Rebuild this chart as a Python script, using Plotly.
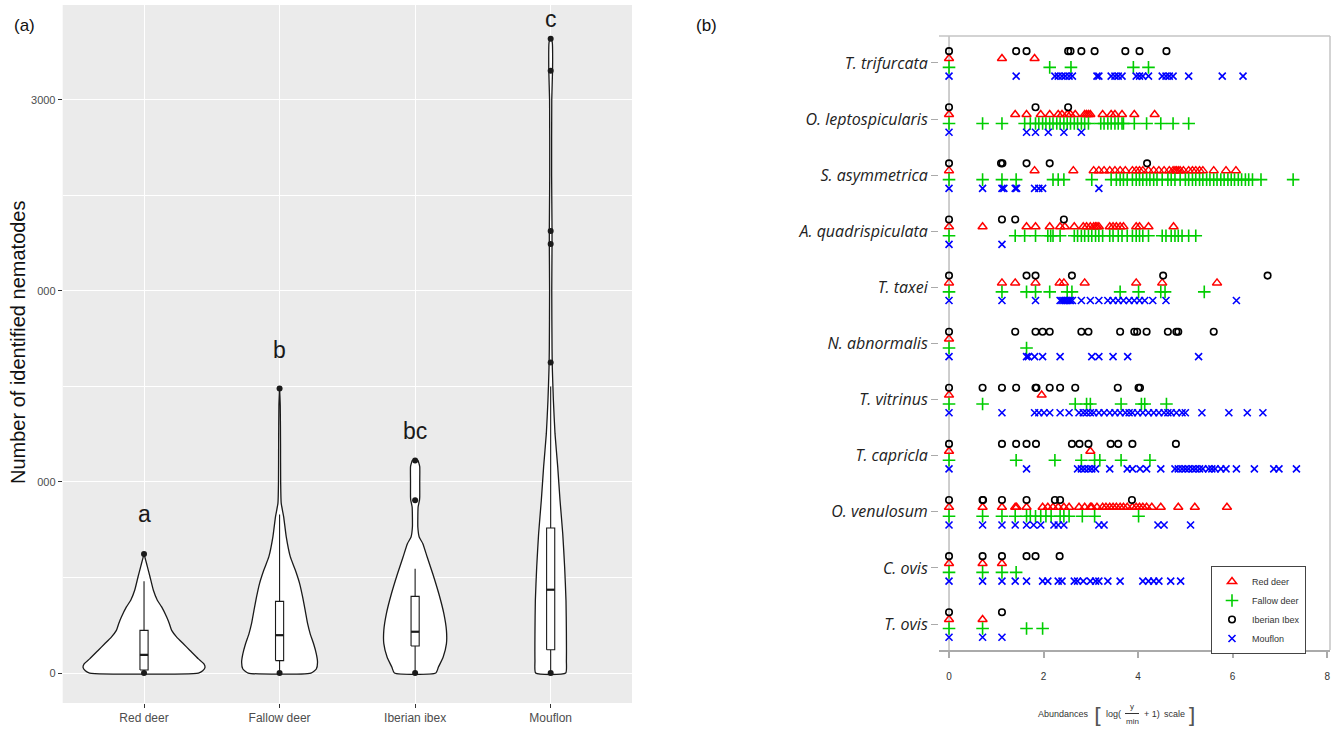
import plotly.graph_objects as go

W, H = 1336, 733

# ---------------- Panel (a) data ----------------
hosts = ["Red deer", "Fallow deer", "Iberian ibex", "Mouflon"]
sig_letters = ["a", "b", "bc", "c"]
letter_y = [832, 1691, 1267, 3424]
y_tick_vals = [0, 1000, 2000, 3000]
y_tick_text = ["0", "000", "000", "3000"]

# violin outlines: value levels and half-widths (category units)
red_deer_vy = [0, 12, 30, 47, 74, 118, 153, 188, 223, 258, 293, 346, 381, 433, 504, 556, 591, 623]
red_deer_hw = [0.401, 0.433, 0.450, 0.443, 0.401, 0.339, 0.290, 0.241, 0.204, 0.187, 0.167, 0.130,
               0.098, 0.069, 0.044, 0.025, 0.012, 0.0]
fallow_vy = [0, 21, 56, 100, 153, 205, 258, 328, 398, 468, 539, 609, 714, 819, 889, 1000, 1200, 1400, 1490]
fallow_hw = [0.231, 0.271, 0.280, 0.271, 0.251, 0.226, 0.207, 0.189, 0.170, 0.148, 0.116, 0.079,
             0.049, 0.030, 0.012, 0.008, 0.007, 0.005, 0.0]
ibex_vy = [0, 31, 84, 154, 223, 311, 415, 520, 607, 677, 712, 764, 817, 869, 904, 921, 1000, 1080, 1100, 1113]
ibex_hw = [0.153, 0.172, 0.207, 0.231, 0.231, 0.212, 0.175, 0.130, 0.089, 0.057, 0.030, 0.020,
           0.020, 0.022, 0.032, 0.034, 0.034, 0.034, 0.027, 0.020]
mouflon_vy = [0, 66, 206, 380, 555, 729, 904, 1079, 1253, 1428, 1600, 1700, 2000, 2240, 2320, 2600,
              3000, 3160, 3300, 3320]
mouflon_hw = [0.111, 0.116, 0.116, 0.113, 0.103, 0.089, 0.069, 0.052, 0.032, 0.020, 0.012, 0.010,
              0.008, 0.010, 0.010, 0.007, 0.008, 0.014, 0.012, 0.004]

# boxplot statistics
box_q1 = [16, 65, 141, 122]
box_median = [95, 198, 216, 436]
box_q3 = [223, 375, 401, 759]
box_low = [0, 0, 0, 0]
box_high = [481, 830, 546, 1500]

# plotted points
red_deer_pts = [0, 623]
fallow_pts = [0, 1490]
ibex_pts = [0, 904, 1113]
mouflon_pts = [0, 1625, 2246, 2314, 3153, 3320]

# ---------------- Panel (b) data ----------------
species = ["T. trifurcata", "O. leptospicularis", "S. asymmetrica", "A. quadrispiculata", "T. taxei",
           "N. abnormalis", "T. vitrinus", "T. capricla", "O. venulosum", "C. ovis", "T. ovis"]
legend_names = ["Red deer", "Fallow deer", "Iberian Ibex", "Mouflon"]
x_ticks_b = [0, 2, 4, 6, 8]

red_deer_ab = [
    [0, 1.12, 1.81],
    [0, 1.40, 1.64, 1.94, 2.13, 2.31, 2.39, 2.50, 2.57, 2.67, 2.87, 2.91, 2.95, 2.99, 3.25, 3.43, 3.51, 3.66, 3.92, 4.35],
    [0, 1.81, 2.63, 3.06, 3.17, 3.28, 3.40, 3.51, 3.62, 3.73, 3.88, 3.96, 4.03, 4.10, 4.22, 4.33, 4.44, 4.55, 4.66,
     4.74, 4.78, 4.81, 4.85, 4.89, 4.96, 5.07, 5.15, 5.22, 5.30, 5.37, 5.60, 5.86, 6.07],
    [0, 0.71, 1.64, 1.83, 2.13, 2.35, 2.45, 2.65, 2.84, 2.91, 2.99, 3.06, 3.10, 3.13, 3.17, 3.40, 3.47, 3.54, 3.62,
     3.69, 3.96, 4.03, 4.22, 4.75],
    [0, 1.12, 1.40, 1.83, 2.34, 2.43, 2.87, 3.96, 4.51, 5.67],
    [0],
    [0, 1.96],
    [0, 2.99],
    [0, 0.71, 1.12, 1.40, 1.43, 1.64, 1.98, 2.09, 2.20, 2.31, 2.43, 2.54, 2.75, 2.87, 2.99, 3.02, 3.13, 3.25, 3.32,
     3.40, 3.47, 3.54, 3.62, 3.69, 3.77, 3.88, 3.96, 4.03, 4.10, 4.18, 4.29, 4.48, 4.85, 5.20, 5.88],
    [0, 0.71, 1.12],
    [0, 0.71],
]
fallow_deer_ab = [
    [0, 2.13, 2.58, 3.90, 4.22],
    [0, 0.71, 1.12, 1.60, 1.72, 1.83, 1.90, 1.98, 2.05, 2.13, 2.20, 2.28, 2.35, 2.43, 2.50, 2.57, 2.65, 2.72, 2.80,
     2.87, 2.95, 3.21, 3.28, 3.36, 3.43, 3.51, 3.58, 3.66, 3.69, 3.92, 4.18, 4.48, 4.74, 5.07],
    [0, 0.71, 1.12, 1.42, 2.20, 2.31, 2.43, 3.02, 3.43, 3.54, 3.62, 3.69, 3.77, 3.88, 3.96, 4.03, 4.10, 4.18, 4.25,
     4.33, 4.40, 4.51, 4.63, 4.70, 4.78, 4.89, 5.00, 5.07, 5.15, 5.22, 5.30, 5.37, 5.45, 5.52, 5.60, 5.67, 5.75,
     5.82, 5.90, 5.97, 6.04, 6.12, 6.19, 6.27, 6.34, 6.42, 6.60, 7.28],
    [0, 1.40, 1.60, 1.83, 2.09, 2.15, 2.20, 2.35, 2.65, 2.72, 2.80, 2.87, 2.95, 3.02, 3.10, 3.17, 3.25, 3.40, 3.47,
     3.58, 3.66, 3.77, 3.88, 3.96, 4.03, 4.10, 4.22, 4.51, 4.59, 4.70, 4.78, 4.85, 4.93, 5.07, 5.22],
    [0, 1.12, 1.64, 1.83, 2.13, 2.50, 2.60, 3.62, 4.01, 4.48, 4.57, 5.40],
    [0, 1.64],
    [0, 0.71, 2.67, 2.91, 2.99, 3.64, 4.07, 4.14, 4.60],
    [0, 1.42, 2.24, 2.80, 3.08, 3.19, 3.64, 4.25],
    [0, 0.71, 1.12, 1.40, 1.64, 1.72, 1.83, 1.94, 2.05, 2.16, 2.35, 2.43, 2.54, 2.82, 3.08, 4.01],
    [0, 0.71, 1.12, 1.42],
    [0, 0.71, 1.64, 1.98],
]
iberian_ibex_ab = [
    [0, 1.42, 1.64, 2.52, 2.57, 2.80, 3.08, 3.73, 4.03, 4.60],
    [0, 1.83, 2.52],
    [0, 1.10, 1.13, 1.64, 2.13, 4.19],
    [0, 1.12, 1.40, 2.43],
    [0, 1.64, 1.83, 2.60, 4.53, 6.74],
    [0, 1.40, 1.83, 1.98, 2.13, 2.80, 2.95, 3.62, 3.92, 3.98, 4.18, 4.63, 4.81, 4.85, 5.60],
    [0, 0.71, 1.12, 1.42, 1.83, 1.85, 2.13, 2.35, 2.67, 3.57, 4.01, 4.04],
    [0, 1.12, 1.42, 1.64, 1.84, 2.60, 2.76, 2.95, 3.42, 3.58, 3.88, 4.80],
    [0, 0.71, 0.72, 1.12, 1.64, 2.24, 2.35, 3.87],
    [0, 0.71, 1.12, 1.64, 1.83, 2.34],
    [0, 1.12],
]
mouflon_ab = [
    [0, 1.42, 2.24, 2.31, 2.39, 2.46, 2.54, 2.61, 3.13, 3.17, 3.43, 3.51, 3.58, 3.66, 3.96, 4.03, 4.10, 4.22, 4.51,
     4.59, 4.66, 4.74, 5.07, 5.78, 6.22],
    [0, 1.64, 1.83, 2.10, 2.43, 2.80],
    [0, 0.71, 1.12, 1.16, 1.40, 1.43, 1.81, 1.90, 1.98, 3.17],
    [0, 1.12],
    [0, 1.12, 1.83, 2.35, 2.39, 2.43, 2.46, 2.50, 2.54, 2.57, 2.61, 2.80, 2.99, 3.17, 3.36, 3.47, 3.58, 3.69, 3.81,
     3.92, 4.03, 4.14, 4.31, 4.59, 6.08],
    [0, 1.64, 1.68, 1.81, 1.98, 2.35, 3.02, 3.17, 3.47, 3.78, 5.28],
    [0, 1.12, 1.81, 1.90, 2.01, 2.13, 2.35, 2.54, 2.75, 2.84, 2.91, 2.99, 3.06, 3.17, 3.28, 3.40, 3.51, 3.62, 3.73,
     3.81, 3.88, 3.99, 4.10, 4.22, 4.33, 4.44, 4.55, 4.63, 4.70, 4.81, 4.93, 5.00, 5.35, 5.92, 6.31, 6.64],
    [0, 1.64, 2.72, 2.80, 2.87, 2.95, 3.02, 3.10, 3.40, 3.77, 3.88, 4.04, 4.18, 4.48, 4.78, 4.85, 4.93, 5.00, 5.07,
     5.15, 5.22, 5.30, 5.37, 5.49, 5.56, 5.63, 5.75, 5.86, 6.08, 6.46, 6.87, 6.98, 7.35],
    [0, 0.71, 1.12, 1.40, 1.64, 1.79, 1.94, 2.22, 2.31, 2.43, 3.17, 3.28, 4.42, 4.55, 5.11],
    [0, 0.71, 1.12, 1.40, 1.64, 1.98, 2.09, 2.31, 2.39, 2.65, 2.72, 2.84, 2.99, 3.10, 3.17, 3.36, 3.62, 4.10, 4.22,
     4.33, 4.44, 4.69, 4.90],
    [0, 0.71, 1.12],
]


def px(p):
    return p / W


def py(p):
    return 1 - p / H


FONT = "Liberation Sans, Arial, sans-serif"
INK = "#1a1a1a"
fig = go.Figure()

# ---------------- Panel (a) ----------------
profiles = [(red_deer_vy, red_deer_hw), (fallow_vy, fallow_hw), (ibex_vy, ibex_hw), (mouflon_vy, mouflon_hw)]
for i, (vy, hw) in enumerate(profiles):
    xs = [i + h for h in hw] + [i - h for h in reversed(hw)] + [i + hw[0]]
    ys = list(vy) + list(reversed(vy)) + [vy[0]]
    fig.add_trace(go.Scatter(x=xs, y=ys, mode="lines", fill="toself", fillcolor="white",
                             line=dict(color=INK, width=1.3, shape="spline", smoothing=0.5),
                             showlegend=False, hoverinfo="skip", xaxis="x", yaxis="y"))

BOX_HALF = 0.03
for i in range(4):
    fig.add_trace(go.Scatter(x=[i, i, None, i, i], y=[box_q3[i], box_high[i], None, box_q1[i], box_low[i]],
                             mode="lines", line=dict(color=INK, width=1.1), showlegend=False,
                             hoverinfo="skip", xaxis="x", yaxis="y"))
    fig.add_trace(go.Scatter(x=[i - BOX_HALF, i + BOX_HALF, i + BOX_HALF, i - BOX_HALF, i - BOX_HALF],
                             y=[box_q1[i], box_q1[i], box_q3[i], box_q3[i], box_q1[i]],
                             mode="lines", fill="toself", fillcolor="white",
                             line=dict(color=INK, width=1.1), showlegend=False,
                             hoverinfo="skip", xaxis="x", yaxis="y"))
    fig.add_trace(go.Scatter(x=[i - BOX_HALF, i + BOX_HALF], y=[box_median[i], box_median[i]],
                             mode="lines", line=dict(color=INK, width=2.2), showlegend=False,
                             hoverinfo="skip", xaxis="x", yaxis="y"))

for i, pts in enumerate([red_deer_pts, fallow_pts, ibex_pts, mouflon_pts]):
    fig.add_trace(go.Scatter(x=[i] * len(pts), y=pts, mode="markers",
                             marker=dict(color=INK, size=6), showlegend=False,
                             hoverinfo="skip", xaxis="x", yaxis="y", cliponaxis=False))

annotations = []
for i, (lab, ly) in enumerate(zip(sig_letters, letter_y)):
    annotations.append(dict(x=i, y=ly, xref="x", yref="y", text=lab, showarrow=False,
                            xanchor="center", yanchor="middle",
                            font=dict(size=23, color=INK, family=FONT)))

# ---------------- Panel (b) ----------------
n = len(species)
rows = [n - k for k in range(n)]
host_offsets = [0.08, -0.08, 0.21, -0.235]
styles = [
    dict(symbol="triangle-up-open", size=8, color="#FF0000", line=dict(color="#FF0000", width=1.5)),
    dict(symbol="cross-thin-open", size=9, color="#00CD00", line=dict(color="#00CD00", width=1.6)),
    dict(symbol="circle-open", size=6.5, color="#000000", line=dict(color="#000000", width=1.6)),
    dict(symbol="x-thin-open", size=7, color="#0000FF", line=dict(color="#0000FF", width=1.6)),
]
host_data = [red_deer_ab, fallow_deer_ab, iberian_ibex_ab, mouflon_ab]
for h in range(4):
    xs, ys = [], []
    for k in range(n):
        for v in host_data[h][k]:
            xs.append(v)
            ys.append(rows[k] + host_offsets[h])
    fig.add_trace(go.Scatter(x=xs, y=ys, mode="markers", name=legend_names[h], marker=styles[h],
                             xaxis="x2", yaxis="y2", cliponaxis=False, hoverinfo="skip"))

shapes = [
    dict(type="rect", xref="x domain", yref="y domain", x0=0, x1=1, y0=0, y1=1,
         fillcolor="#EBEBEB", line=dict(width=0), layer="below"),
    dict(type="line", xref="x2 domain", yref="y2 domain", x0=0, x1=1, y0=1, y1=1,
         line=dict(color="#C4C4C4", width=1.5)),
    dict(type="line", xref="x2 domain", yref="y2 domain", x0=1, x1=1, y0=0, y1=1,
         line=dict(color="#C4C4C4", width=1.5)),
    dict(type="line", xref="x2", yref="y2 domain", x0=0, x1=0, y0=0, y1=1,
         line=dict(color="#BDBDBD", width=1.5), layer="below"),
]


def label(xp, yp, text, size, color="#333333", family=FONT, angle=0):
    return dict(x=px(xp), y=py(yp), xref="paper", yref="paper", text=text, showarrow=False,
                xanchor="center", yanchor="middle", textangle=angle,
                font=dict(size=size, color=color, family=family))


tc = "#333333"
annotations += [
    label(1063, 714, "Abundances", 9),
    label(1098, 715, "[", 22, "#555", "DejaVu Sans"),
    label(1113, 714, "log(", 9),
    label(1132, 706, "y", 8),
    label(1132, 721, "min", 8),
    label(1152, 714, "+ 1)", 9),
    label(1174, 714, "scale", 9),
    label(1191, 715, "]", 22, "#555", "DejaVu Sans"),
    label(25, 26, "(a)", 17, "#111"),
    label(706, 26, "(b)", 17, "#111"),
    label(18, 342, "Number of identified nematodes", 20, "#111", FONT, -90),
]
shapes.append(dict(type="line", xref="paper", yref="paper", x0=px(1125), x1=px(1139), y0=py(713.5),
                   y1=py(713.5), line=dict(color=tc, width=1)))

fig.update_layout(
    template="none",
    width=W, height=H, margin=dict(l=0, r=0, t=0, b=0),
    paper_bgcolor="white", plot_bgcolor="white",
    font=dict(family=FONT, color="#333"),
    showlegend=True,
    legend=dict(x=px(1211), y=py(566), xanchor="left", yanchor="top", bgcolor="white",
                bordercolor="#444", borderwidth=1, font=dict(size=9, color="#333", family=FONT),
                itemwidth=30, tracegroupgap=0),
    xaxis=dict(domain=[px(62.7), px(632)], range=[-0.6, 3.6], type="linear",
               tickvals=[0, 1, 2, 3], ticktext=hosts, showgrid=True, gridcolor="white", gridwidth=1.2,
               zeroline=False, showline=False, ticks="outside", ticklen=4, tickcolor="#333",
               tickfont=dict(size=12, color="#4D4D4D", family=FONT), anchor="y"),
    yaxis=dict(domain=[py(703), py(5)], range=[-157, 3497], tickvals=y_tick_vals, ticktext=y_tick_text,
               showgrid=True, gridcolor="white", gridwidth=1.2, zeroline=False, showline=False,
               ticks="outside", ticklen=4, tickcolor="#333",
               tickfont=dict(size=11, color="#4D4D4D", family=FONT), anchor="x",
               minor=dict(tickvals=[500, 1500, 2500], showgrid=True, gridcolor="white", gridwidth=0.6,
                          ticks="")),
    xaxis2=dict(domain=[px(939), px(1330)], range=[-0.212, 8.06], tickvals=x_ticks_b,
                showgrid=False, zeroline=False, showline=True, linecolor="#AAAAAA", linewidth=1.5,
                ticks="outside", ticklen=6, tickcolor="#AAAAAA", tickwidth=1.5,
                tickfont=dict(size=10, color="#333", family=FONT), ticklabelstandoff=10, anchor="y2"),
    yaxis2=dict(domain=[py(650), py(36)], range=[0.537, 11.48], tickvals=rows,
                ticktext=["<i>" + s + "</i>" for s in species], showgrid=False, zeroline=False,
                showline=False, ticks="outside", ticklen=7, tickcolor="#AAAAAA", tickwidth=1.2,
                tickfont=dict(size=16, color="#222", family="Open Sans, Liberation Sans, sans-serif"),
                anchor="x2"),
    shapes=shapes,
    annotations=annotations,
)

fig.write_html("out.html", config={"displayModeBar": False},
               post_script="document.body.style.margin='0px';")
